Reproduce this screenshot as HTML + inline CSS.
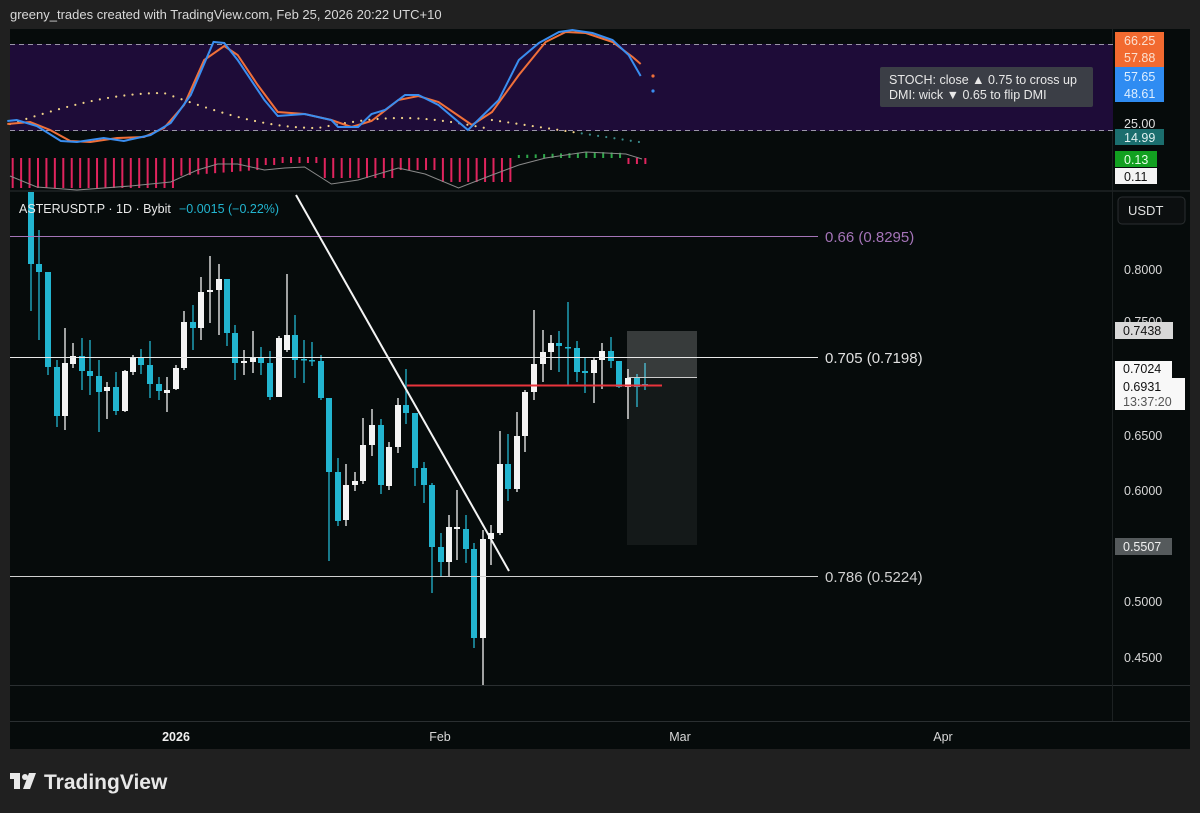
<!DOCTYPE html>
<html><head><meta charset="utf-8">
<style>
html,body{margin:0;padding:0;background:#202020;width:1200px;height:813px;overflow:hidden;font-family:"Liberation Sans",sans-serif;}
#hdr{position:absolute;left:10px;top:7px;color:#d8d8d8;font-size:13px;}
svg{position:absolute;left:0;top:0;}
</style></head><body>
<div id="hdr">greeny_trades created with TradingView.com, Feb 25, 2026 20:22 UTC+10</div>
<svg id="s" width="1200" height="813" viewBox="0 0 1200 813" font-family="Liberation Sans, sans-serif">
<rect x="10" y="29" width="1180" height="720" fill="#060b0b"/>
<line x1="10" y1="191" x2="1190" y2="191" fill="none" stroke="#2a2f31"/>
<line x1="10" y1="685.5" x2="1190" y2="685.5" stroke="#2a2f31"/>
<line x1="10" y1="721.5" x2="1190" y2="721.5" stroke="#2a2f31"/>
<line x1="1112.5" y1="29" x2="1112.5" y2="721" stroke="#1c2122"/>
<rect x="10" y="44" width="1103" height="87" fill="#1e0c38"/>
<line x1="10" y1="44.5" x2="1113" y2="44.5" stroke="#9a94a8" stroke-dasharray="5,4"/>
<line x1="10" y1="130.5" x2="1113" y2="130.5" stroke="#9a94a8" stroke-dasharray="5,4"/>
<g id="top" transform="translate(10 0) scale(1.339 1) translate(-10 0)"></g>
<circle cx="653" cy="76" r="1.6" fill="#f0703a"/><circle cx="653" cy="91" r="1.6" fill="#3a8ef0"/>
<g id="cand"></g>
</svg>
<script>
const s=document.getElementById('top'),c=document.getElementById('cand');
function el(g,tag,a,txt){const e=document.createElementNS('http://www.w3.org/2000/svg',tag);for(const k in a)e.setAttribute(k,a[k]);if(txt!==undefined)e.textContent=txt;g.appendChild(e);return e;}
const NS={'vector-effect':'non-scaling-stroke'};
// histogram
for(let i=0;i<82;i++){const x=12+i*6.3;let bot,top=158,col='#e0245e';
 if(x<135)bot=188;else if(x<200)bot=176-(x-135)*0.1;else if(x<240)bot=165;else if(x<300)bot=178;else if(x<330)bot=170;else if(x<390)bot=182;else{col='#2ea84a';top=152+Math.abs(x-450)/20;bot=158;if(x>470){col='#e0245e';top=158;bot=164;}if(x>485)break;}
 if(x>210&&x<240){top=157;bot=163;}
 el(s,'line',Object.assign({x1:x,y1:top,x2:x,y2:bot,stroke:col,'stroke-width':2},NS));}
el(s,'polyline',Object.assign({points:'10,176 30,187 60,190 100,186 130,182 150,170 165,164 180,164 200,170 215,168 230,167 250,184 270,180 300,168 320,174 345,188 370,175 390,165 410,158 440,152 470,154 482,159',fill:'none',stroke:'#8a8a8a','stroke-width':1},NS));
// dots
for(let i=0;i<80;i++){const x=10+i*6.1;if(x>482)break;let y;
 if(x<125)y=124-31*Math.sin((x-10)/115*Math.PI/2);else if(x<240)y=93+35*Math.sin((x-125)/115*Math.PI/2);else if(x<365)y=128-10*Math.sin((x-240)/125*Math.PI);else y=119+(x-365)*0.2;
 el(s,'ellipse',{cx:x,cy:y,rx:0.8,ry:1.1,fill:x>435?'#3a8a8a':'#f2d48a'});}
el(s,'polyline',Object.assign({points:'8,124 25,122 40,130 55,141 70,142 90,138 110,137 125,128 140,105 155,60 170,46 180,55 195,85 210,112 230,114 250,120 265,127 280,121 300,100 315,96 330,102 355,125 370,112 390,75 410,42 425,32 440,33 460,42 475,57 481,64',fill:'none',stroke:'#f0703a','stroke-width':2},NS));
el(s,'polyline',Object.assign({points:'8,121 15,120 30,126 48,141 60,142 80,138 95,141 115,135 130,123 145,95 162,42 170,43 180,60 200,100 210,116 230,114 250,120 255,127 270,127 280,114 290,110 305,95 315,95 330,105 352,130 375,100 390,60 405,43 420,32 430,30 445,33 460,40 472,55 481,76',fill:'none',stroke:'#3a8ef0','stroke-width':2},NS));
const C=[[31,'c',192,264,192,311],[39,'c',264,272,230,340],[48,'c',272,367,272,375],[57,'c',367,416,360,427],[65,'w',363,416,328,430],[73,'w',356,364,343,368],[82,'c',356,371,338,390],[90,'c',371,376,340,395],[99,'c',376,392,360,432],[107,'w',387,391,382,419],[116,'c',387,411,372,415],[125,'w',371,411,370,412],[133,'w',358,372,355,375],[141,'c',358,365,349,374],[150,'c',365,384,341,398],[159,'c',384,391,377,400],[167,'w',390,393,377,412],[176,'w',368,389,365,390],[184,'w',322,368,311,370],[193,'c',322,328,305,350],[201,'w',292,328,277,340],[210,'w',290,292,256,323],[219,'w',279,290,264,335],[227,'c',279,333,279,346],[235,'c',333,363,325,380],[244,'w',361,363,350,375],[253,'w',358,362,331,373],[261,'c',358,363,347,375],[270,'c',363,397,351,400],[279,'w',338,397,336,397],[287,'w',335,350,274,352],[295,'c',335,360,315,378],[304,'c',359,360,340,383],[312,'c',360,361,342,366],[321,'c',361,398,355,400],[329,'c',398,472,398,561],[338,'c',472,521,458,526],[346,'w',485,520,464,526],[355,'w',481,485,472,491],[363,'w',445,481,418,484],[372,'w',425,445,409,456],[381,'c',425,485,419,494],[389,'w',447,486,442,490],[398,'w',405,447,398,453],[406,'c',405,413,369,424],[415,'c',413,468,413,486],[424,'c',468,485,462,503],[432,'c',485,547,483,593],[441,'c',547,562,533,577],[449,'w',527,562,515,577],[457,'w',527,529,490,560],[466,'c',529,549,515,563],[474,'c',549,638,543,648],[483,'w',539,638,530,685],[491,'w',533,539,525,565],[500,'w',464,533,431,535],[508,'c',464,489,434,501],[517,'w',436,489,412,492],[525,'w',392,436,390,452],[534,'w',364,392,310,400],[543,'w',352,364,330,382],[551,'w',343,352,335,370],[559,'c',343,346,331,372],[568,'c',347,348,302,385],[577,'c',348,372,341,382],[585,'c',371,373,358,393],[594,'w',360,373,358,403],[602,'w',351,360,343,389],[611,'c',351,361,337,368],[619,'c',361,387,361,388],[628,'w',378,387,369,419],[637,'c',378,387,374,407],[645,'c',384,386,363,390]];
for(const [x,t,bt,bb,wh,wl] of C){const col=t=='c'?'#22b5d0':'#f4f4f4';
 el(c,'line',{x1:x,y1:wh,x2:x,y2:wl,stroke:col,'stroke-width':1.3});
 el(c,'rect',{x:x-3,y:bt,width:6,height:Math.max(bb-bt,1.5),fill:col});}
</script>
<svg width="1200" height="813" viewBox="0 0 1200 813" font-family="Liberation Sans, sans-serif" style="position:absolute;left:0;top:0">
<rect x="627" y="331" width="70" height="46" fill="#ffffff" opacity="0.2"/>
<rect x="627" y="377" width="70" height="168" fill="#ffffff" opacity="0.06"/>
<line x1="10" y1="236.5" x2="818" y2="236.5" stroke="#a474b8" stroke-width="1"/>
<line x1="10" y1="357.5" x2="818" y2="357.5" stroke="#e8e8e8" stroke-width="1"/>
<line x1="10" y1="576.5" x2="818" y2="576.5" stroke="#d0d0d0" stroke-width="1"/>
<line x1="627" y1="377.5" x2="697" y2="377.5" stroke="#cccccc"/>
<line x1="407" y1="385.5" x2="662" y2="385.5" stroke="#e8343c" stroke-width="2"/>
<line x1="296" y1="195" x2="509" y2="571" stroke="#f4f4f4" stroke-width="2"/>
<text x="825" y="242" font-size="15" fill="#a474b8">0.66 (0.8295)</text>
<text x="825" y="363" font-size="15" fill="#e0e0e0">0.705 (0.7198)</text>
<text x="825" y="582" font-size="15" fill="#d0d0d0">0.786 (0.5224)</text>
<text x="19" y="213" font-size="12.5" fill="#e8e8e8">ASTERUSDT.P · 1D · Bybit</text>
<text x="179" y="213" font-size="12.5" fill="#22b5d0">−0.0015 (−0.22%)</text>
<rect x="880" y="67" width="213" height="40" rx="2" fill="#3b3e46"/>
<text x="889" y="84" font-size="12.5" fill="#e8e8e8">STOCH: close ▲ 0.75 to cross up</text>
<text x="889" y="99" font-size="12.5" fill="#e8e8e8">DMI: wick ▼ 0.65 to flip DMI</text>
<g font-size="12.5">
<rect x="1115" y="32" width="49" height="35" fill="#f26a30"/>
<text x="1124" y="45" fill="#fbe0d0">66.25</text><text x="1124" y="62" fill="#fbe0d0">57.88</text>
<rect x="1115" y="67" width="49" height="35" fill="#2f8cf2"/>
<text x="1124" y="81" fill="#dfefff">57.65</text><text x="1124" y="98" fill="#dfefff">48.61</text>
<text x="1124" y="128" fill="#e0e0e0">25.00</text>
<rect x="1115" y="129" width="49" height="16" fill="#1b6e6e"/><text x="1124" y="142" fill="#e0f0f0">14.99</text>
<rect x="1115" y="151" width="42" height="16" fill="#12a020"/><text x="1124" y="164" fill="#e8ffe8">0.13</text>
<rect x="1115" y="168" width="42" height="16" fill="#f4f4f4"/><text x="1124" y="181" fill="#111">0.11</text>
<rect x="1118" y="197" width="67" height="27" rx="4" fill="#0c0f10" stroke="#2a2e30"/>
<text x="1128" y="215" fill="#e0e0e0" font-size="13">USDT</text>
<text x="1124" y="274" fill="#d8d8d8">0.8000</text>
<text x="1124" y="326" fill="#d8d8d8">0.7500</text>
<rect x="1115" y="322" width="58" height="17" fill="#d8d8d8"/><text x="1123" y="335" fill="#111">0.7438</text>
<rect x="1115" y="361" width="57" height="17" fill="#f8f8f8"/><text x="1123" y="373" fill="#111">0.7024</text>
<rect x="1115" y="378" width="70" height="32" fill="#f8f8f8"/><text x="1123" y="391" fill="#111">0.6931</text><text x="1123" y="406" fill="#555">13:37:20</text>
<text x="1124" y="440" fill="#d8d8d8">0.6500</text>
<text x="1124" y="495" fill="#d8d8d8">0.6000</text>
<rect x="1115" y="538" width="57" height="17" fill="#555a5c"/><text x="1123" y="551" fill="#f0f0f0">0.5507</text>
<text x="1124" y="606" fill="#d8d8d8">0.5000</text>
<text x="1124" y="662" fill="#d8d8d8">0.4500</text>
<text x="176" y="741" fill="#f0f0f0" font-weight="bold" text-anchor="middle">2026</text>
<text x="440" y="741" fill="#d8d8d8" text-anchor="middle">Feb</text>
<text x="680" y="741" fill="#d8d8d8" text-anchor="middle">Mar</text>
<text x="943" y="741" fill="#d8d8d8" text-anchor="middle">Apr</text>
</g>
<g fill="#e8e8e8">
<rect x="10" y="773" width="10" height="6"/><rect x="14" y="773" width="6" height="16"/>
<circle cx="25" cy="777" r="3"/><polygon points="29,773 36,773 30,789 23,789"/>
<text x="44" y="789" font-size="21" font-weight="bold">TradingView</text>
</g>
</svg>
</body></html>
